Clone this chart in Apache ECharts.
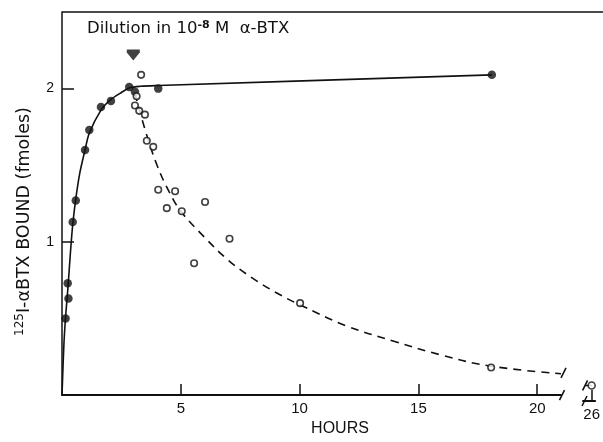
<!DOCTYPE html>
<html>
<head>
<meta charset="utf-8">
<script src="https://cdn.jsdelivr.net/npm/echarts@6/dist/echarts.min.js"></script>
<style>
html,body{margin:0;padding:0;background:#fff;overflow:hidden;}
#c{width:603px;height:442px;}
</style>
</head>
<body>
<div id="c"></div>
<script>
// ---- data ----
// control (filled circles, solid line)
const controlHours = [0.15, 0.27, 0.24, 0.45, 0.58, 0.97, 1.15, 1.64, 2.06, 2.83, 3.07, 4.05, 18.09];
const controlBound = [0.50, 0.63, 0.73, 1.13, 1.27, 1.60, 1.73, 1.88, 1.92, 2.01, 1.98, 2.00, 2.09];
// fitted association curve
const assocCurveHours = [0, 0.08, 0.15, 0.25, 0.35, 0.45, 0.58, 0.75, 0.97, 1.15, 1.64, 2.06, 2.5, 2.85, 3.3, 4.05, 18.09];
const assocCurveBound = [0, 0.33, 0.51, 0.70, 0.92, 1.11, 1.28, 1.45, 1.60, 1.71, 1.86, 1.93, 1.975, 2.005, 2.015, 2.02, 2.09];
// dilution (open circles, dashed line)
const dilutionHours = [3.33, 3.14, 3.07, 3.25, 3.49, 3.57, 3.84, 4.05, 4.76, 4.41, 5.04, 6.02, 7.05, 5.56, 10.02, 18.06];
const dilutionBound = [2.09, 1.95, 1.89, 1.855, 1.83, 1.66, 1.62, 1.34, 1.33, 1.22, 1.20, 1.26, 1.02, 0.86, 0.60, 0.18];
// dissociation curve
const dissocCurveHours = [3.07, 3.5, 4.0, 4.5, 5.0, 6.0, 7.0, 8.0, 9.0, 10.0, 12.0, 14.0, 16.0, 18.0, 21.0];
const dissocCurveBound = [1.97, 1.73, 1.50, 1.33, 1.20, 1.03, 0.88, 0.765, 0.67, 0.59, 0.45, 0.35, 0.26, 0.19, 0.139];
// point after the axis break
const lateHours = [26];
const lateBound = [0.10];
const lateCurveHours = [25.62, 26];
const lateCurveBound = [0.10, 0.10];
// arrow marking the dilution time
const arrowHours = [3];
const arrowLevel = [2.22];
// ticks
const xTicks = [5, 10, 15, 20];
const xTicksLate = [26];
const yTicks = [1, 2];

const zip = (a, b) => a.map((v, i) => [v, b[i]]);
const INK = '#111';
const FONT = '"Liberation Sans", Arial, sans-serif';
const WIDE = '"DejaVu Sans", sans-serif';

const chart = echarts.init(document.getElementById('c'), null, {renderer: 'canvas', width: 603, height: 442});

const option = {
  backgroundColor: '#fff',
  animation: false,
  grid: [
    {left: 62, top: 12, width: 499, height: 389, containLabel: false},
    {left: 583, top: 12, width: 20, height: 389, containLabel: false}
  ],
  xAxis: [
    {
      type: 'value', gridIndex: 0, min: 0, max: 21,
      splitLine: {show: false},
      axisLine: {show: true, onZero: false, lineStyle: {color: INK, width: 2}},
      axisTick: {show: true, inside: true, length: 11, customValues: xTicks, lineStyle: {color: INK, width: 1.5}},
      axisLabel: {show: true, customValues: xTicks, color: INK, fontSize: 15, fontFamily: FONT, margin: 6},
      name: 'HOURS', nameLocation: 'middle', nameGap: 24,
      nameTextStyle: {color: INK, fontSize: 16, fontFamily: FONT, padding: [0, 0, 0, 57]}
    },
    {
      type: 'value', gridIndex: 1, min: 25.5, max: 26.2,
      splitLine: {show: false},
      axisLine: {show: true, onZero: false, lineStyle: {color: INK, width: 2}},
      axisTick: {show: true, inside: true, length: 11, customValues: xTicksLate, lineStyle: {color: INK, width: 1.5}},
      axisLabel: {show: true, customValues: xTicksLate, color: INK, fontSize: 15, fontFamily: FONT, margin: 6, hideOverlap: false}
    }
  ],
  yAxis: [
    {
      type: 'value', gridIndex: 0, min: 0, max: 2.5,
      splitLine: {show: false},
      axisLine: {show: true, onZero: false, lineStyle: {color: INK, width: 1.5}},
      axisTick: {show: true, inside: true, length: 12, customValues: yTicks, lineStyle: {color: INK, width: 1.5}},
      axisLabel: {show: true, customValues: yTicks, color: INK, fontSize: 14, fontFamily: FONT, margin: 8},
      name: '{sup|125}{main|I-αBTX BOUND (fmoles)}',
      nameLocation: 'middle', nameGap: 28, nameRotate: 90,
      nameTextStyle: {
        color: INK, fontFamily: WIDE, padding: [0, 36, 0, 0],
        rich: {
          sup: {fontSize: 12, fontFamily: WIDE, color: INK, padding: [0, 0, 8, 0]},
          main: {fontSize: 17.5, fontFamily: WIDE, color: INK}
        }
      }
    },
    {type: 'value', gridIndex: 1, min: 0, max: 2.5, show: false}
  ],
  series: [
    {
      type: 'line', xAxisIndex: 0, yAxisIndex: 0, data: zip(assocCurveHours, assocCurveBound),
      smooth: 0.3, showSymbol: false, symbol: 'none',
      lineStyle: {color: INK, width: 1.6}, z: 2
    },
    {
      type: 'line', xAxisIndex: 0, yAxisIndex: 0, data: zip(dissocCurveHours, dissocCurveBound),
      smooth: 0.4, showSymbol: false, symbol: 'none',
      lineStyle: {color: INK, width: 1.6, type: [8, 6]}, z: 2
    },
    {
      type: 'line', xAxisIndex: 1, yAxisIndex: 1, data: zip(lateCurveHours, lateCurveBound),
      showSymbol: false, symbol: 'none',
      lineStyle: {color: INK, width: 1.6}, z: 2
    },
    {
      type: 'scatter', xAxisIndex: 0, yAxisIndex: 0, data: zip(controlHours, controlBound),
      symbol: 'circle', symbolSize: 8.5, itemStyle: {color: INK}, z: 4
    },
    {
      type: 'scatter', xAxisIndex: 0, yAxisIndex: 0, data: zip(dilutionHours, dilutionBound),
      symbol: 'circle', symbolSize: 6.5, itemStyle: {color: '#fff', borderColor: INK, borderWidth: 1.6}, z: 5
    },
    {
      type: 'scatter', xAxisIndex: 1, yAxisIndex: 1, data: zip(lateHours, lateBound),
      symbol: 'circle', symbolSize: 7, itemStyle: {color: '#fff', borderColor: INK, borderWidth: 1.6}, z: 5
    },
    {
      type: 'scatter', xAxisIndex: 0, yAxisIndex: 0, data: zip(arrowHours, arrowLevel),
      symbol: 'path://M0,0 L12,0 L12,3 L6,11 L0,3 Z', symbolSize: [13, 11],
      itemStyle: {color: INK}, z: 5
    }
  ]
};
chart.setOption(option);

// decorations: top border, axis-break marks, annotation text
const p = (g, v) => chart.convertToPixel({gridIndex: g}, v);
const slash = (pt, dx, dy) => ({
  type: 'line', silent: true,
  shape: {x1: pt[0] - 2.5 + dx, y1: pt[1] + 5 + dy, x2: pt[0] + 2.5 + dx, y2: pt[1] - 5 + dy},
  style: {stroke: INK, lineWidth: 1.6}
});
const topLeft = p(0, [0, 2.5]);
const endAxis = p(0, [21, 0]);
const startLate = p(1, [25.5, 0]);
const endCurve = p(0, [dissocCurveHours[dissocCurveHours.length - 1], dissocCurveBound[dissocCurveBound.length - 1]]);
const startLateCurve = p(1, [lateCurveHours[0], lateCurveBound[0]]);

chart.setOption({
  graphic: [
    {type: 'line', silent: true, shape: {x1: topLeft[0], y1: topLeft[1], x2: 603, y2: topLeft[1]}, style: {stroke: INK, lineWidth: 1.5}},
    slash(endAxis, 1, 0),
    slash(startLate, 1.5, 0),
    slash(endCurve, 2.5, -1),
    slash(startLateCurve, 0, 0),
    {
      type: 'text', left: 87, top: 20, silent: true,
      style: {
        text: '{a|Dilution in 10}{s|-8}{a| M  α-BTX}',
        rich: {
          a: {fontSize: 16.5, fontFamily: WIDE, fill: INK},
          s: {fontSize: 11, fontFamily: WIDE, fill: INK, padding: [0, 0, 7, 0], fontWeight: 'bold'}
        }
      }
    }
  ]
});
</script>
</body>
</html>
